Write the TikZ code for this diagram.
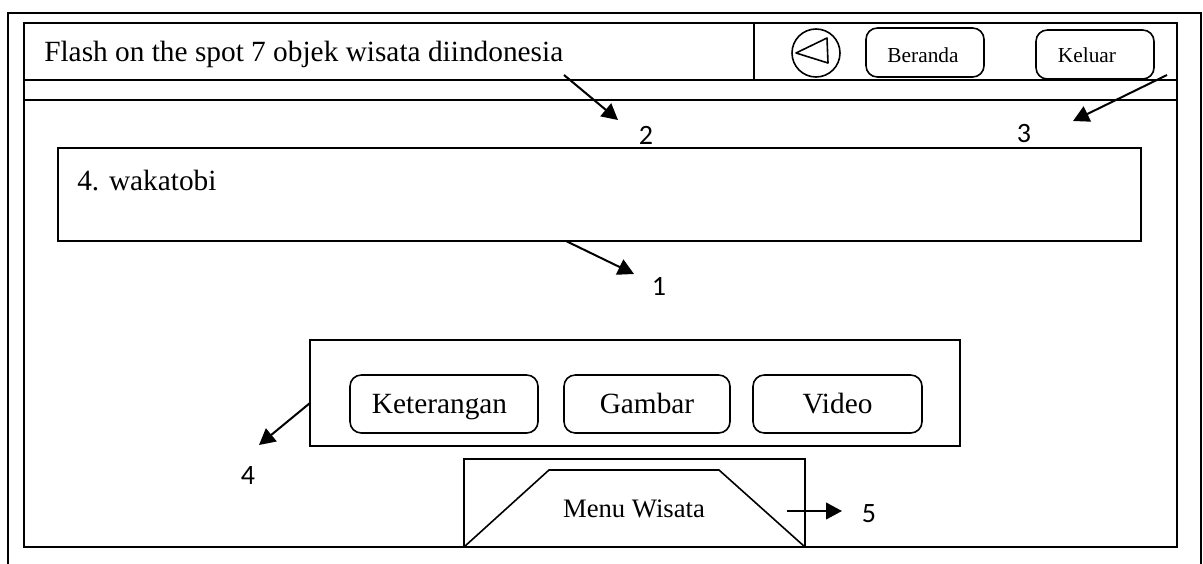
\documentclass[tikz,border=0pt]{standalone}
\usepackage{fontspec}
\setmainfont{Liberation Serif}
\newfontfamily\numfont{Carlito}
\usetikzlibrary{arrows.meta}
\tikzset{
  x=0.75pt,y=-0.75pt,
  ln/.style={draw=black,line width=1.3pt},
  thinln/.style={draw=black,line width=1.2pt},
  btn/.style={draw=black,line width=1.2pt,rounded corners=8.5pt,inner sep=0pt,text depth=0pt},
  lab/.style={font=\numfont\fontsize{21}{25}\selectfont,inner sep=0pt},
  arr/.style={draw=black,line width=1.5pt,-{Triangle[length=12pt,width=12.5pt]}},
}
\begin{document}
\begin{tikzpicture}
\useasboundingbox (0,0) rectangle (1203,564);
\coordinate (oa) at (8,564); \coordinate (ob) at (8,13); \coordinate (oc) at (1201,13); \coordinate (od) at (1201,564);
\draw[ln] (oa) -- (ob) -- (oc) -- (od);
\draw[ln,line width=1.6pt] (24,23) rectangle (1177,547);
\coordinate (h1a) at (24,80); \coordinate (h1b) at (1177,80);
\coordinate (h2a) at (24,100); \coordinate (h2b) at (1177,100);
\coordinate (da) at (754,23); \coordinate (db) at (754,80);
\draw[thinln] (h1a) -- (h1b);
\draw[thinln] (h2a) -- (h2b);
\draw[thinln] (da) -- (db);
\node[anchor=base west,inner sep=0pt,font=\fontsize{22}{26}\selectfont] (title) at (44,61) {Flash on the spot 7 objek wisata diindonesia};
\node[draw=black,line width=1.2pt,circle,minimum size=36pt,inner sep=0pt] (circ) at (816,53) {};
\draw[thinln,line join=round] (796,53) -- (827,38) -- (828,63) -- cycle;
\node[btn,minimum width=88.5pt,minimum height=36.75pt,font=\fontsize{16}{19}\selectfont,text height=14.25pt] (ber) at (925,52.5) {Beranda\hspace{3pt}\null};
\node[btn,minimum width=88.5pt,minimum height=36.75pt,font=\fontsize{16}{19}\selectfont,text height=11.25pt] (kel) at (1095,54.5) {Keluar\hspace{12pt}\null};
\node[draw=black,line width=1.2pt,minimum width=812pt,minimum height=69.75pt,inner sep=0pt] (main) at (599.5,194.5) {};
\node[anchor=base west,inner sep=0pt,font=\fontsize{22}{26}\selectfont] (wak) at (77,190) {4. wakatobi};
\node[draw=black,line width=1.2pt,minimum width=487.5pt,minimum height=79.5pt,inner sep=0pt] (panel) at (635,393) {};
\node[btn,minimum width=141pt,minimum height=43.5pt,font=\fontsize{22}{26}\selectfont,text height=13.5pt] (ket) at (444,404) {Keterangan\hspace{6.75pt}\null};
\node[btn,minimum width=124.5pt,minimum height=43.5pt,font=\fontsize{22}{26}\selectfont,text height=13.5pt] (gam) at (647,404) {Gambar};
\node[btn,minimum width=126.75pt,minimum height=43.5pt,font=\fontsize{22}{26}\selectfont,text height=13.5pt] (vid) at (837.5,404) {Video};
\node[draw=black,line width=1.2pt,minimum width=255.75pt,minimum height=66pt,inner sep=0pt] (menu) at (634.5,503) {};
\coordinate (t1) at (464,547); \coordinate (t2) at (549,470); \coordinate (t3) at (719,470); \coordinate (t4) at (805,547);
\draw[thinln] (t1) -- (t2) -- (t3) -- (t4);
\node[anchor=base,inner sep=0pt,font=\fontsize{20}{24}\selectfont] (mw) at (634,517) {Menu Wisata};
\node[lab] (n1) at (659,286) {1};
\node[lab] (n2) at (646,135) {2};
\node[lab] (n3) at (1024,134) {3};
\node[lab] (n4) at (248,476) {4};
\node[lab] (n5) at (869,514) {5};
\coordinate (a1) at (566,241); \coordinate (b1) at (634,274);
\coordinate (a2) at (564,75); \coordinate (b2) at (618,120);
\coordinate (a3) at (1167,75); \coordinate (b3) at (1073,121);
\coordinate (a4) at (310,403); \coordinate (b4) at (259,445);
\coordinate (a5) at (787,511); \coordinate (b5) at (842,511);
\draw[arr] (a1) -- (b1);
\draw[arr] (a2) -- (b2);
\draw[arr] (a3) -- (b3);
\draw[arr] (a4) -- (b4);
\draw[arr] (a5) -- (b5);
\end{tikzpicture}
\end{document}
